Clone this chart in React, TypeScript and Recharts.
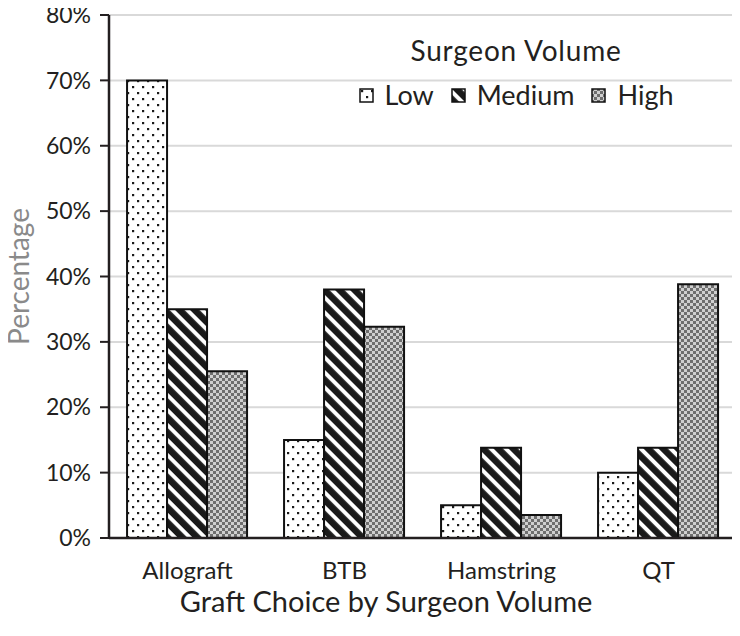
import { Bar, BarChart, CartesianGrid, XAxis, YAxis } from "recharts";

const categories = ["Allograft", "BTB", "Hamstring", "QT"];
const lowVolume = [0.7, 0.15, 0.05, 0.1];
const mediumVolume = [0.35, 0.38, 0.138, 0.138];
const highVolume = [0.255, 0.323, 0.035, 0.388];
const yTicks = [0, 0.1, 0.2, 0.3, 0.4, 0.5, 0.6, 0.7, 0.8];

const seriesDefs = [
  { key: "low", label: "Low", fill: "url(#pat-dots)" },
  { key: "medium", label: "Medium", fill: "url(#pat-stripes)" },
  { key: "high", label: "High", fill: "url(#pat-checks)" },
];

const rows = categories.map((name, i) => ({
  name,
  low: lowVolume[i],
  medium: mediumVolume[i],
  high: highVolume[i],
}));

const FONT = "Lato, 'Open Sans', sans-serif";
const INK = "#231f20";

function Patterns() {
  return (
    <svg width={0} height={0} style={{ position: "absolute" }}>
      <defs>
        <pattern id="pat-dots" width={10} height={12} patternUnits="userSpaceOnUse">
          <rect width={10} height={12} fill="#fff" />
          <rect x={2} y={2} width={2.2} height={2.2} fill="#1a1a1a" />
          <rect x={7} y={8} width={2.2} height={2.2} fill="#1a1a1a" />
        </pattern>
        <pattern
          id="pat-stripes"
          width={10.6}
          height={10.6}
          patternUnits="userSpaceOnUse"
          patternTransform="rotate(45)"
        >
          <rect width={10.6} height={10.6} fill="#1a1a1a" />
          <rect width={10.6} height={4} fill="#fff" />
        </pattern>
        <pattern id="pat-checks" width={6} height={6} patternUnits="userSpaceOnUse">
          <rect width={6} height={6} fill="#cfcfcf" />
          <rect width={3} height={3} fill="#6e6e6e" />
          <rect x={3} y={3} width={3} height={3} fill="#6e6e6e" />
        </pattern>
      </defs>
    </svg>
  );
}

// legend sits inside the plot, top right, so it is drawn as an overlay
function VolumeLegend() {
  return (
    <div
      style={{
        position: "absolute",
        left: 346,
        top: 34,
        width: 340,
        fontFamily: FONT,
        color: INK,
        textAlign: "center",
      }}
    >
      <div style={{ fontSize: 28, lineHeight: "32px", marginBottom: 14, letterSpacing: 0.8 }}>
        Surgeon Volume
      </div>
      <div style={{ display: "flex", justifyContent: "center", gap: 17, fontSize: 27, lineHeight: "30px" }}>
        {seriesDefs.map((s) => (
          <span key={s.key} style={{ display: "inline-flex", alignItems: "center", gap: 11 }}>
            <svg width={15} height={15}>
              <rect x={1} y={1} width={13} height={13} fill={s.fill} stroke="#111" strokeWidth={1.5} />
            </svg>
            {s.label}
          </span>
        ))}
      </div>
    </div>
  );
}

export default function App() {
  return (
    <div style={{ margin: -8, position: "relative", width: 740, height: 636, background: "#fff" }}>
      <Patterns />
      <BarChart
        width={740}
        height={636}
        data={rows}
        margin={{ top: 15, right: 3, left: 0, bottom: 0 }}
        barGap={0}
        barCategoryGap="11.5%"
      >
        <CartesianGrid vertical={false} stroke="#d9d9d9" strokeWidth={2} />
        <XAxis
          dataKey="name"
          height={98}
          tickLine={false}
          axisLine={{ stroke: INK, strokeWidth: 2.5 }}
          tick={{ fill: INK, fontSize: 24, fontFamily: FONT }}
          tickMargin={18}
          label={({ viewBox }: any) => (
            <text
              x={viewBox.x + viewBox.width / 2 - 37}
              y={viewBox.y + viewBox.height - 24}
              textAnchor="middle"
              fill={INK}
              fontSize={29}
              fontFamily={FONT}
            >
              Graft Choice by Surgeon Volume
            </text>
          )}
        />
        <XAxis
          xAxisId="top"
          dataKey="name"
          orientation="top"
          height={0}
          tick={false}
          tickLine={false}
          axisLine={{ stroke: INK, strokeWidth: 2 }}
        />
        <YAxis
          width={109}
          domain={[0, 0.8]}
          ticks={yTicks}
          tickSize={9}
          tickMargin={9}
          tickLine={{ stroke: INK, strokeWidth: 2 }}
          axisLine={{ stroke: INK, strokeWidth: 2.5 }}
          tick={{ fill: INK, fontSize: 23, fontFamily: FONT }}
          tickFormatter={(v: number) => `${Math.round(v * 100)}%`}
          label={({ viewBox }: any) => (
            <text
              x={18}
              y={viewBox.y + viewBox.height / 2}
              transform={`rotate(-90, 18, ${viewBox.y + viewBox.height / 2})`}
              textAnchor="middle"
              dominantBaseline="central"
              fill="#8a8a8a"
              fontSize={28}
              fontFamily={FONT}
            >
              Percentage
            </text>
          )}
        />
        <YAxis
          yAxisId="right"
          orientation="right"
          width={0}
          domain={[0, 0.8]}
          tick={false}
          tickLine={false}
          axisLine={{ stroke: INK, strokeWidth: 2 }}
        />
        {seriesDefs.map((s) => (
          <Bar
            key={s.key}
            dataKey={s.key}
            name={s.label}
            fill={s.fill}
            stroke="#111"
            strokeWidth={2}
            isAnimationActive={false}
          />
        ))}
      </BarChart>
      <VolumeLegend />
    </div>
  );
}
